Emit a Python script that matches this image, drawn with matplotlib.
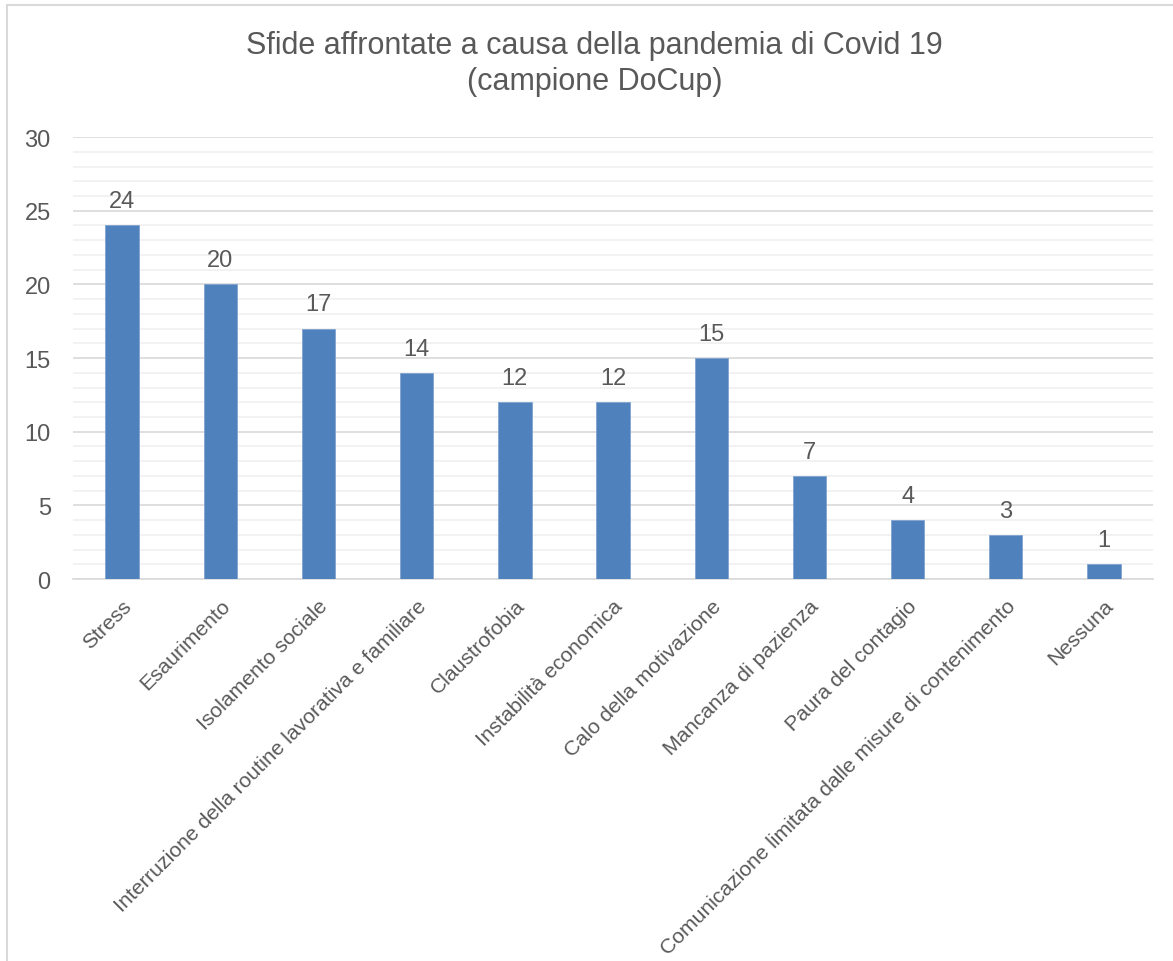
import matplotlib
matplotlib.use('Agg')
import matplotlib.pyplot as plt
from matplotlib.patches import Rectangle

# dati
categorie = ['Stress', 'Esaurimento', 'Isolamento sociale',
             'Interruzione della routine lavorativa e familiare',
             'Claustrofobia', 'Instabilità economica', 'Calo della motivazione',
             'Mancanza di pazienza', 'Paura del contagio',
             'Comunicazione limitata dalle misure di contenimento', 'Nessuna']
valori = [24, 20, 17, 14, 12, 12, 15, 7, 4, 3, 1]

titolo = 'Sfide affrontate a causa della pandemia di Covid 19\n(campione DoCup)'
grigio = '#595959'
blu = '#4F81BD'

plt.rcParams['font.family'] = ['Liberation Sans', 'DejaVu Sans']

fig = plt.figure(figsize=(11.73, 9.62), dpi=100)
ax = fig.add_axes([0.0622, 0.397, 0.9208, 0.4595])

x = range(len(categorie))
ax.bar(x, valori, width=0.34, color=blu, edgecolor='#7FA3D0', linewidth=0.6, zorder=3)
for i, v in enumerate(valori):
	ax.text(i, v + 0.9, str(v), ha='center', va='bottom', fontsize=17, color=grigio)

ax.set_xlim(-0.5, len(categorie) - 0.5)
ax.set_ylim(0, 30)
ax.set_yticks(range(0, 31, 5))
ax.set_yticks(range(0, 31, 1), minor=True)
ax.grid(axis='y', which='major', color='#D9D9D9', linewidth=1.2, zorder=0)
ax.grid(axis='y', which='minor', color='#F0F0F0', linewidth=1.2, zorder=0)
ax.tick_params(axis='y', which='both', length=0, labelsize=17, labelcolor=grigio, pad=16)
ax.set_xticks(list(x))
ax.set_xticklabels(categorie, rotation=45, ha='right', rotation_mode='anchor',
                   fontsize=15.2, color=grigio)
ax.tick_params(axis='x', length=0, pad=12)
for s in ['top', 'right', 'left']:
	ax.spines[s].set_visible(False)
ax.spines['bottom'].set_color('#D9D9D9')
ax.spines['bottom'].set_linewidth(1.2)

fig.text(0.507, 0.968, titolo, ha='center', va='top', fontsize=22, color=grigio, linespacing=1.25)

# bordo del grafico
fig.patches.append(Rectangle((7 / 1173, -0.1), 1.2, 1 - 6 / 962 + 0.1, transform=fig.transFigure,
                             fill=False, edgecolor='#D9D9D9', linewidth=1.5))

fig.savefig('out.png', dpi=100)
